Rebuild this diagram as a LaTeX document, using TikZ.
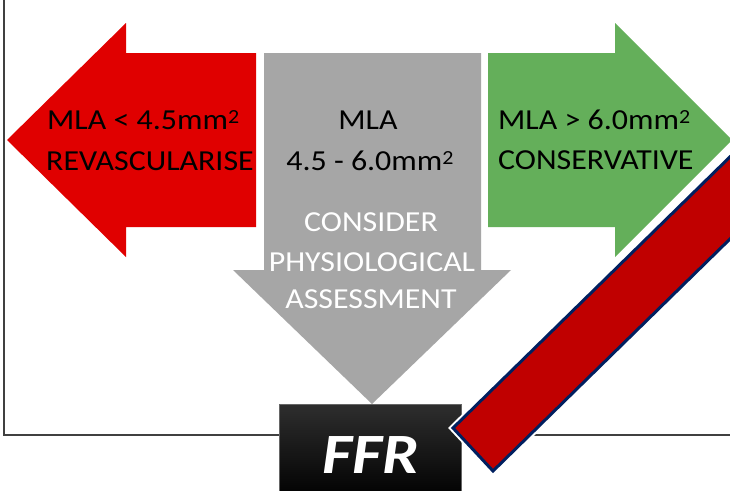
\documentclass[tikz,border=0pt]{standalone}
\usepackage{fontspec}
\setmainfont{Carlito}
\definecolor{arrred}{HTML}{E00000}
\definecolor{arrgray}{HTML}{A6A6A6}
\definecolor{arrgreen}{HTML}{64AF5A}
\definecolor{barred}{HTML}{C00000}
\definecolor{barblue}{HTML}{002060}
\newcommand{\wide}[1]{\scalebox{1.1}[1]{#1}}
\newcommand{\sqmm}{mm\raisebox{6pt}{\fontsize{20}{20}\selectfont 2}}
\begin{document}
\begin{tikzpicture}[x=1pt,y=-1pt,
  lbl/.style={font=\fontsize{29}{32}\selectfont, inner sep=0pt, text=black},
  wlbl/.style={lbl, text=white},
  frame/.style={draw=black!75, line width=1.2pt},
  ffrbox/.style={top color=black!82, bottom color=black, draw=black!60, line width=0.8pt}]
\useasboundingbox (0,0) rectangle (730,490);
\clip (0,0) rectangle (730,490);
\fill[white] (0,0) rectangle (730,490);
% frame
\coordinate (ftop) at (4,-5);
\coordinate (fcorner) at (4,435);
\coordinate (fend) at (740,435);
\draw[frame] (ftop) -- (fcorner) -- (fend);
% arrows
\fill[arrred] (7,140) -- (126,23) -- (126,53) -- (256,53) -- (256,227) -- (126,227) -- (126,257) -- cycle;
\fill[arrgray] (264,53) -- (481,53) -- (481,270) -- (511,270) -- (372,404) -- (233,270) -- (264,270) -- cycle;
\fill[arrgreen] (488,53) -- (615,53) -- (615,23) -- (732,140) -- (615,257) -- (615,227) -- (488,227) -- cycle;
% texts
\node[lbl, anchor=base west] (r1) at (47,129) {\wide{MLA < 4.5\sqmm}};
\node[lbl, anchor=base west] (r2) at (46,170) {\wide{REVASCULARISE}};
\node[lbl, anchor=base] (g1) at (368,129) {\wide{MLA}};
\node[lbl, anchor=base] (g2) at (370,170) {\wide{4.5 - 6.0\sqmm}};
\node[wlbl, anchor=base] (g3) at (371,231) {\wide{CONSIDER}};
\node[wlbl, anchor=base] (g4) at (372,271) {\wide{PHYSIOLOGICAL}};
\node[wlbl, anchor=base] (g5) at (371,308) {\wide{ASSESSMENT}};
\node[lbl, anchor=base west] (v1) at (498,129) {\wide{MLA > 6.0\sqmm}};
\node[lbl, anchor=base west] (v2) at (498,169) {\wide{CONSERVATIVE}};
% FFR box
\path[ffrbox] (279,404) rectangle (461,500);
\node[anchor=base, text=white, font=\fontsize{57}{60}\selectfont\bfseries\itshape, inner sep=0pt] (ffr) at (371,473) {\scalebox{1.14}[1]{FFR}};
% red bar
\draw[white, line width=7pt, line join=miter] (453,428) -- (493,471) -- (825,146) -- (785,103) -- cycle;
\filldraw[fill=barred, draw=barblue, line width=3pt, line join=miter] (453,428) -- (493,471) -- (825,146) -- (785,103) -- cycle;
\end{tikzpicture}
\end{document}
